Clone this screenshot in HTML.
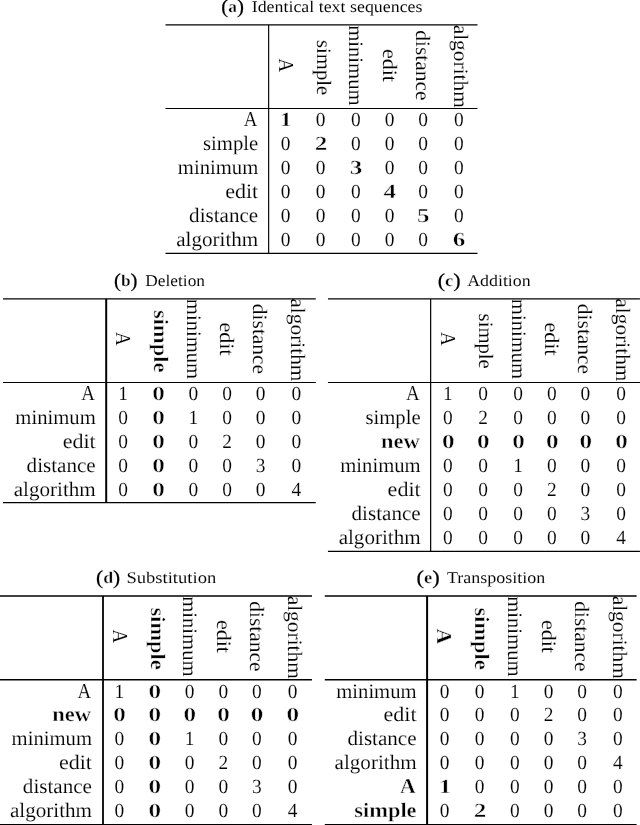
<!DOCTYPE html>
<html lang="en">
<head>
<meta charset="utf-8">
<title>Edit distance matrices</title>
<style>
html,body{margin:0;padding:0;background:#fff;}
body{width:640px;height:825px;overflow:hidden;font-family:"Liberation Serif",serif;}
svg{display:block;will-change:transform;transform:translateZ(0);}
svg text{font-family:"Liberation Serif",serif;fill:#000;stroke:#fff;stroke-width:0.13px;text-rendering:geometricPrecision;}
svg line{stroke:#000;}
.r{font-size:20.0px;}
.rb{font-size:20.0px;font-weight:bold;}
.h{font-size:20.5px;}
.hb{font-size:20.5px;font-weight:bold;}
.A{font-size:21.3px;}
.c{font-size:16.4px;stroke-width:0.06px;}
.cb{font-size:16.4px;font-weight:bold;stroke-width:0.3px;}
.cp{font-weight:normal;stroke:#000;stroke-width:0.2px;}
.rb{stroke-width:0.45px;}
.hb{stroke-width:0.4px;}
</style>
</head>
<body>
<svg width="640" height="825" viewBox="0 0 640 825">
<rect x="0" y="0" width="640" height="825" fill="#fff"/>
<g id="ta">
<line x1="165.5" x2="477.5" y1="24.95" y2="24.95" stroke-width="1.3"/>
<line x1="165.5" x2="477.5" y1="108.5" y2="108.5" stroke-width="1.0"/>
<line x1="165.5" x2="477.5" y1="253.4" y2="253.4" stroke-width="1.2"/>
<line x1="268.65" x2="268.65" y1="24.95" y2="253.4" stroke-width="1.15"/>
<text class="cb" x="221.3" y="12.4" textLength="22.7" lengthAdjust="spacingAndGlyphs"><tspan class="cp" font-size="19.68" dy="0.8">(</tspan><tspan dy="-0.8">a</tspan><tspan class="cp" font-size="19.68" dy="0.8">)</tspan></text>
<text class="c" x="251.7" y="12.4" textLength="170.8" lengthAdjust="spacingAndGlyphs">Identical text sequences</text>
<text class="h A" transform="translate(278.87 58.47) rotate(90)" textLength="13.65" lengthAdjust="spacingAndGlyphs">A</text>
<text class="h" transform="translate(316.95 40) rotate(90)" textLength="55.19" lengthAdjust="spacingAndGlyphs">simple</text>
<text class="h" transform="translate(349.27 25.23) rotate(90)" textLength="80.34" lengthAdjust="spacingAndGlyphs">minimum</text>
<text class="h" transform="translate(382.77 48.88) rotate(90)" textLength="33.04" lengthAdjust="spacingAndGlyphs">edit</text>
<text class="h" transform="translate(415.97 30.26) rotate(90)" textLength="70.28" lengthAdjust="spacingAndGlyphs">distance</text>
<text class="h" transform="translate(453.9 24.66) rotate(90)" textLength="83.28" lengthAdjust="spacingAndGlyphs">algorithm</text>
<text class="h A" x="243.65" y="126.05" textLength="13.65" lengthAdjust="spacingAndGlyphs">A</text>
<text class="rb" x="279.59" y="126.05" textLength="12.61" lengthAdjust="spacingAndGlyphs">1</text>
<text class="r" x="315.75" y="126.05" textLength="9.7" lengthAdjust="spacingAndGlyphs">0</text>
<text class="r" x="350.9" y="126.05" textLength="9.7" lengthAdjust="spacingAndGlyphs">0</text>
<text class="r" x="384.65" y="126.05" textLength="9.7" lengthAdjust="spacingAndGlyphs">0</text>
<text class="r" x="418.15" y="126.05" textLength="9.7" lengthAdjust="spacingAndGlyphs">0</text>
<text class="r" x="453.9" y="126.05" textLength="9.7" lengthAdjust="spacingAndGlyphs">0</text>
<text class="h" x="203.01" y="150.01" textLength="55.19" lengthAdjust="spacingAndGlyphs">simple</text>
<text class="r" x="280.65" y="150.01" textLength="9.7" lengthAdjust="spacingAndGlyphs">0</text>
<text class="rb" x="314.69" y="150.01" textLength="12.61" lengthAdjust="spacingAndGlyphs">2</text>
<text class="r" x="350.9" y="150.01" textLength="9.7" lengthAdjust="spacingAndGlyphs">0</text>
<text class="r" x="384.65" y="150.01" textLength="9.7" lengthAdjust="spacingAndGlyphs">0</text>
<text class="r" x="418.15" y="150.01" textLength="9.7" lengthAdjust="spacingAndGlyphs">0</text>
<text class="r" x="453.9" y="150.01" textLength="9.7" lengthAdjust="spacingAndGlyphs">0</text>
<text class="h" x="177.86" y="173.97" textLength="80.34" lengthAdjust="spacingAndGlyphs">minimum</text>
<text class="r" x="280.65" y="173.97" textLength="9.7" lengthAdjust="spacingAndGlyphs">0</text>
<text class="r" x="315.75" y="173.97" textLength="9.7" lengthAdjust="spacingAndGlyphs">0</text>
<text class="rb" x="349.84" y="173.97" textLength="12.61" lengthAdjust="spacingAndGlyphs">3</text>
<text class="r" x="384.65" y="173.97" textLength="9.7" lengthAdjust="spacingAndGlyphs">0</text>
<text class="r" x="418.15" y="173.97" textLength="9.7" lengthAdjust="spacingAndGlyphs">0</text>
<text class="r" x="453.9" y="173.97" textLength="9.7" lengthAdjust="spacingAndGlyphs">0</text>
<text class="h" x="225.16" y="197.93" textLength="33.04" lengthAdjust="spacingAndGlyphs">edit</text>
<text class="r" x="280.65" y="197.93" textLength="9.7" lengthAdjust="spacingAndGlyphs">0</text>
<text class="r" x="315.75" y="197.93" textLength="9.7" lengthAdjust="spacingAndGlyphs">0</text>
<text class="r" x="350.9" y="197.93" textLength="9.7" lengthAdjust="spacingAndGlyphs">0</text>
<text class="rb" x="383.59" y="197.93" textLength="12.61" lengthAdjust="spacingAndGlyphs">4</text>
<text class="r" x="418.15" y="197.93" textLength="9.7" lengthAdjust="spacingAndGlyphs">0</text>
<text class="r" x="453.9" y="197.93" textLength="9.7" lengthAdjust="spacingAndGlyphs">0</text>
<text class="h" x="189.12" y="221.89" textLength="69.08" lengthAdjust="spacingAndGlyphs">distance</text>
<text class="r" x="280.65" y="221.89" textLength="9.7" lengthAdjust="spacingAndGlyphs">0</text>
<text class="r" x="315.75" y="221.89" textLength="9.7" lengthAdjust="spacingAndGlyphs">0</text>
<text class="r" x="350.9" y="221.89" textLength="9.7" lengthAdjust="spacingAndGlyphs">0</text>
<text class="r" x="384.65" y="221.89" textLength="9.7" lengthAdjust="spacingAndGlyphs">0</text>
<text class="rb" x="417.09" y="221.89" textLength="12.61" lengthAdjust="spacingAndGlyphs">5</text>
<text class="r" x="453.9" y="221.89" textLength="9.7" lengthAdjust="spacingAndGlyphs">0</text>
<text class="h" x="176.22" y="245.85" textLength="81.98" lengthAdjust="spacingAndGlyphs">algorithm</text>
<text class="r" x="280.65" y="245.85" textLength="9.7" lengthAdjust="spacingAndGlyphs">0</text>
<text class="r" x="315.75" y="245.85" textLength="9.7" lengthAdjust="spacingAndGlyphs">0</text>
<text class="r" x="350.9" y="245.85" textLength="9.7" lengthAdjust="spacingAndGlyphs">0</text>
<text class="r" x="384.65" y="245.85" textLength="9.7" lengthAdjust="spacingAndGlyphs">0</text>
<text class="r" x="418.15" y="245.85" textLength="9.7" lengthAdjust="spacingAndGlyphs">0</text>
<text class="rb" x="452.84" y="245.85" textLength="12.61" lengthAdjust="spacingAndGlyphs">6</text>
</g>
<g id="tb">
<line x1="3" x2="315.75" y1="298.9" y2="298.9" stroke-width="1.3"/>
<line x1="3" x2="315.75" y1="382.5" y2="382.5" stroke-width="1.0"/>
<line x1="3" x2="315.75" y1="502.6" y2="502.6" stroke-width="1.3"/>
<line x1="106.2" x2="106.2" y1="298.9" y2="502.6" stroke-width="2.0"/>
<text class="cb" x="114" y="285.7" textLength="23.5" lengthAdjust="spacingAndGlyphs"><tspan class="cp" font-size="19.68" dy="0.8">(</tspan><tspan dy="-0.8">b</tspan><tspan class="cp" font-size="19.68" dy="0.8">)</tspan></text>
<text class="c" x="145.3" y="285.7" textLength="59.7" lengthAdjust="spacingAndGlyphs">Deletion</text>
<text class="h A" transform="translate(116.37 332.08) rotate(90)" textLength="13.65" lengthAdjust="spacingAndGlyphs">A</text>
<text class="hb" transform="translate(154.45 310) rotate(90)" textLength="62.39" lengthAdjust="spacingAndGlyphs">simple</text>
<text class="h" transform="translate(186.77 298.83) rotate(90)" textLength="80.34" lengthAdjust="spacingAndGlyphs">minimum</text>
<text class="h" transform="translate(220.27 322.48) rotate(90)" textLength="33.04" lengthAdjust="spacingAndGlyphs">edit</text>
<text class="h" transform="translate(253.47 303.86) rotate(90)" textLength="70.28" lengthAdjust="spacingAndGlyphs">distance</text>
<text class="h" transform="translate(291.4 298.26) rotate(90)" textLength="83.28" lengthAdjust="spacingAndGlyphs">algorithm</text>
<text class="h A" x="81.15" y="399.9" textLength="13.65" lengthAdjust="spacingAndGlyphs">A</text>
<text class="r" x="118.15" y="399.9" textLength="9.7" lengthAdjust="spacingAndGlyphs">1</text>
<text class="rb" x="152.2" y="399.9" textLength="12.61" lengthAdjust="spacingAndGlyphs">0</text>
<text class="r" x="188.4" y="399.9" textLength="9.7" lengthAdjust="spacingAndGlyphs">0</text>
<text class="r" x="222.15" y="399.9" textLength="9.7" lengthAdjust="spacingAndGlyphs">0</text>
<text class="r" x="255.65" y="399.9" textLength="9.7" lengthAdjust="spacingAndGlyphs">0</text>
<text class="r" x="291.4" y="399.9" textLength="9.7" lengthAdjust="spacingAndGlyphs">0</text>
<text class="h" x="15.36" y="423.92" textLength="80.34" lengthAdjust="spacingAndGlyphs">minimum</text>
<text class="r" x="118.15" y="423.92" textLength="9.7" lengthAdjust="spacingAndGlyphs">0</text>
<text class="rb" x="152.2" y="423.92" textLength="12.61" lengthAdjust="spacingAndGlyphs">0</text>
<text class="r" x="188.4" y="423.92" textLength="9.7" lengthAdjust="spacingAndGlyphs">1</text>
<text class="r" x="222.15" y="423.92" textLength="9.7" lengthAdjust="spacingAndGlyphs">0</text>
<text class="r" x="255.65" y="423.92" textLength="9.7" lengthAdjust="spacingAndGlyphs">0</text>
<text class="r" x="291.4" y="423.92" textLength="9.7" lengthAdjust="spacingAndGlyphs">0</text>
<text class="h" x="62.66" y="447.94" textLength="33.04" lengthAdjust="spacingAndGlyphs">edit</text>
<text class="r" x="118.15" y="447.94" textLength="9.7" lengthAdjust="spacingAndGlyphs">0</text>
<text class="rb" x="152.2" y="447.94" textLength="12.61" lengthAdjust="spacingAndGlyphs">0</text>
<text class="r" x="188.4" y="447.94" textLength="9.7" lengthAdjust="spacingAndGlyphs">0</text>
<text class="r" x="222.15" y="447.94" textLength="9.7" lengthAdjust="spacingAndGlyphs">2</text>
<text class="r" x="255.65" y="447.94" textLength="9.7" lengthAdjust="spacingAndGlyphs">0</text>
<text class="r" x="291.4" y="447.94" textLength="9.7" lengthAdjust="spacingAndGlyphs">0</text>
<text class="h" x="26.62" y="471.96" textLength="69.08" lengthAdjust="spacingAndGlyphs">distance</text>
<text class="r" x="118.15" y="471.96" textLength="9.7" lengthAdjust="spacingAndGlyphs">0</text>
<text class="rb" x="152.2" y="471.96" textLength="12.61" lengthAdjust="spacingAndGlyphs">0</text>
<text class="r" x="188.4" y="471.96" textLength="9.7" lengthAdjust="spacingAndGlyphs">0</text>
<text class="r" x="222.15" y="471.96" textLength="9.7" lengthAdjust="spacingAndGlyphs">0</text>
<text class="r" x="255.65" y="471.96" textLength="9.7" lengthAdjust="spacingAndGlyphs">3</text>
<text class="r" x="291.4" y="471.96" textLength="9.7" lengthAdjust="spacingAndGlyphs">0</text>
<text class="h" x="13.72" y="495.98" textLength="81.98" lengthAdjust="spacingAndGlyphs">algorithm</text>
<text class="r" x="118.15" y="495.98" textLength="9.7" lengthAdjust="spacingAndGlyphs">0</text>
<text class="rb" x="152.2" y="495.98" textLength="12.61" lengthAdjust="spacingAndGlyphs">0</text>
<text class="r" x="188.4" y="495.98" textLength="9.7" lengthAdjust="spacingAndGlyphs">0</text>
<text class="r" x="222.15" y="495.98" textLength="9.7" lengthAdjust="spacingAndGlyphs">0</text>
<text class="r" x="255.65" y="495.98" textLength="9.7" lengthAdjust="spacingAndGlyphs">0</text>
<text class="r" x="291.4" y="495.98" textLength="9.7" lengthAdjust="spacingAndGlyphs">4</text>
</g>
<g id="tc">
<line x1="327.95" x2="639.95" y1="298.9" y2="298.9" stroke-width="1.3"/>
<line x1="327.95" x2="639.95" y1="382.5" y2="382.5" stroke-width="1.0"/>
<line x1="327.95" x2="639.95" y1="551.4" y2="551.4" stroke-width="1.2"/>
<line x1="430.65" x2="430.65" y1="298.9" y2="551.4" stroke-width="1.2"/>
<text class="cb" x="437.75" y="285.7" textLength="22.9" lengthAdjust="spacingAndGlyphs"><tspan class="cp" font-size="19.68" dy="0.8">(</tspan><tspan dy="-0.8">c</tspan><tspan class="cp" font-size="19.68" dy="0.8">)</tspan></text>
<text class="c" x="467.15" y="285.7" textLength="63.55" lengthAdjust="spacingAndGlyphs">Addition</text>
<text class="h A" transform="translate(441.32 332.08) rotate(90)" textLength="13.65" lengthAdjust="spacingAndGlyphs">A</text>
<text class="h" transform="translate(479.4 313.6) rotate(90)" textLength="55.19" lengthAdjust="spacingAndGlyphs">simple</text>
<text class="h" transform="translate(511.72 298.83) rotate(90)" textLength="80.34" lengthAdjust="spacingAndGlyphs">minimum</text>
<text class="h" transform="translate(545.22 322.48) rotate(90)" textLength="33.04" lengthAdjust="spacingAndGlyphs">edit</text>
<text class="h" transform="translate(578.42 303.86) rotate(90)" textLength="70.28" lengthAdjust="spacingAndGlyphs">distance</text>
<text class="h" transform="translate(616.35 298.26) rotate(90)" textLength="83.28" lengthAdjust="spacingAndGlyphs">algorithm</text>
<text class="h A" x="406.1" y="399.9" textLength="13.65" lengthAdjust="spacingAndGlyphs">A</text>
<text class="r" x="443.1" y="399.9" textLength="9.7" lengthAdjust="spacingAndGlyphs">1</text>
<text class="r" x="478.2" y="399.9" textLength="9.7" lengthAdjust="spacingAndGlyphs">0</text>
<text class="r" x="513.35" y="399.9" textLength="9.7" lengthAdjust="spacingAndGlyphs">0</text>
<text class="r" x="547.1" y="399.9" textLength="9.7" lengthAdjust="spacingAndGlyphs">0</text>
<text class="r" x="580.6" y="399.9" textLength="9.7" lengthAdjust="spacingAndGlyphs">0</text>
<text class="r" x="616.35" y="399.9" textLength="9.7" lengthAdjust="spacingAndGlyphs">0</text>
<text class="h" x="365.46" y="423.93" textLength="55.19" lengthAdjust="spacingAndGlyphs">simple</text>
<text class="r" x="443.1" y="423.93" textLength="9.7" lengthAdjust="spacingAndGlyphs">0</text>
<text class="r" x="478.2" y="423.93" textLength="9.7" lengthAdjust="spacingAndGlyphs">2</text>
<text class="r" x="513.35" y="423.93" textLength="9.7" lengthAdjust="spacingAndGlyphs">0</text>
<text class="r" x="547.1" y="423.93" textLength="9.7" lengthAdjust="spacingAndGlyphs">0</text>
<text class="r" x="580.6" y="423.93" textLength="9.7" lengthAdjust="spacingAndGlyphs">0</text>
<text class="r" x="616.35" y="423.93" textLength="9.7" lengthAdjust="spacingAndGlyphs">0</text>
<text class="hb" x="381.01" y="447.96" textLength="38.74" lengthAdjust="spacingAndGlyphs">new</text>
<text class="rb" x="442.04" y="447.96" textLength="12.61" lengthAdjust="spacingAndGlyphs">0</text>
<text class="rb" x="477.14" y="447.96" textLength="12.61" lengthAdjust="spacingAndGlyphs">0</text>
<text class="rb" x="512.3" y="447.96" textLength="12.61" lengthAdjust="spacingAndGlyphs">0</text>
<text class="rb" x="546.05" y="447.96" textLength="12.61" lengthAdjust="spacingAndGlyphs">0</text>
<text class="rb" x="579.55" y="447.96" textLength="12.61" lengthAdjust="spacingAndGlyphs">0</text>
<text class="rb" x="615.3" y="447.96" textLength="12.61" lengthAdjust="spacingAndGlyphs">0</text>
<text class="h" x="340.31" y="471.99" textLength="80.34" lengthAdjust="spacingAndGlyphs">minimum</text>
<text class="r" x="443.1" y="471.99" textLength="9.7" lengthAdjust="spacingAndGlyphs">0</text>
<text class="r" x="478.2" y="471.99" textLength="9.7" lengthAdjust="spacingAndGlyphs">0</text>
<text class="r" x="513.35" y="471.99" textLength="9.7" lengthAdjust="spacingAndGlyphs">1</text>
<text class="r" x="547.1" y="471.99" textLength="9.7" lengthAdjust="spacingAndGlyphs">0</text>
<text class="r" x="580.6" y="471.99" textLength="9.7" lengthAdjust="spacingAndGlyphs">0</text>
<text class="r" x="616.35" y="471.99" textLength="9.7" lengthAdjust="spacingAndGlyphs">0</text>
<text class="h" x="387.61" y="496.02" textLength="33.04" lengthAdjust="spacingAndGlyphs">edit</text>
<text class="r" x="443.1" y="496.02" textLength="9.7" lengthAdjust="spacingAndGlyphs">0</text>
<text class="r" x="478.2" y="496.02" textLength="9.7" lengthAdjust="spacingAndGlyphs">0</text>
<text class="r" x="513.35" y="496.02" textLength="9.7" lengthAdjust="spacingAndGlyphs">0</text>
<text class="r" x="547.1" y="496.02" textLength="9.7" lengthAdjust="spacingAndGlyphs">2</text>
<text class="r" x="580.6" y="496.02" textLength="9.7" lengthAdjust="spacingAndGlyphs">0</text>
<text class="r" x="616.35" y="496.02" textLength="9.7" lengthAdjust="spacingAndGlyphs">0</text>
<text class="h" x="351.57" y="520.05" textLength="69.08" lengthAdjust="spacingAndGlyphs">distance</text>
<text class="r" x="443.1" y="520.05" textLength="9.7" lengthAdjust="spacingAndGlyphs">0</text>
<text class="r" x="478.2" y="520.05" textLength="9.7" lengthAdjust="spacingAndGlyphs">0</text>
<text class="r" x="513.35" y="520.05" textLength="9.7" lengthAdjust="spacingAndGlyphs">0</text>
<text class="r" x="547.1" y="520.05" textLength="9.7" lengthAdjust="spacingAndGlyphs">0</text>
<text class="r" x="580.6" y="520.05" textLength="9.7" lengthAdjust="spacingAndGlyphs">3</text>
<text class="r" x="616.35" y="520.05" textLength="9.7" lengthAdjust="spacingAndGlyphs">0</text>
<text class="h" x="338.67" y="544.08" textLength="81.98" lengthAdjust="spacingAndGlyphs">algorithm</text>
<text class="r" x="443.1" y="544.08" textLength="9.7" lengthAdjust="spacingAndGlyphs">0</text>
<text class="r" x="478.2" y="544.08" textLength="9.7" lengthAdjust="spacingAndGlyphs">0</text>
<text class="r" x="513.35" y="544.08" textLength="9.7" lengthAdjust="spacingAndGlyphs">0</text>
<text class="r" x="547.1" y="544.08" textLength="9.7" lengthAdjust="spacingAndGlyphs">0</text>
<text class="r" x="580.6" y="544.08" textLength="9.7" lengthAdjust="spacingAndGlyphs">0</text>
<text class="r" x="616.35" y="544.08" textLength="9.7" lengthAdjust="spacingAndGlyphs">4</text>
</g>
<g id="td">
<line x1="-0.75" x2="311.95" y1="596" y2="596" stroke-width="1.3"/>
<line x1="-0.75" x2="311.95" y1="679.75" y2="679.75" stroke-width="1.3"/>
<line x1="-0.75" x2="311.95" y1="824.6" y2="824.6" stroke-width="1.3"/>
<line x1="103" x2="103" y1="596" y2="824.6" stroke-width="1.8"/>
<text class="cb" x="96" y="583.4" textLength="24.3" lengthAdjust="spacingAndGlyphs"><tspan class="cp" font-size="19.68" dy="0.8">(</tspan><tspan dy="-0.8">d</tspan><tspan class="cp" font-size="19.68" dy="0.8">)</tspan></text>
<text class="c" x="126.4" y="583.4" textLength="89.85" lengthAdjust="spacingAndGlyphs">Substitution</text>
<text class="h A" transform="translate(112.62 629.47) rotate(90)" textLength="13.65" lengthAdjust="spacingAndGlyphs">A</text>
<text class="hb" transform="translate(150.7 607.4) rotate(90)" textLength="62.39" lengthAdjust="spacingAndGlyphs">simple</text>
<text class="h" transform="translate(183.02 596.23) rotate(90)" textLength="80.34" lengthAdjust="spacingAndGlyphs">minimum</text>
<text class="h" transform="translate(216.52 619.88) rotate(90)" textLength="33.04" lengthAdjust="spacingAndGlyphs">edit</text>
<text class="h" transform="translate(249.72 601.26) rotate(90)" textLength="70.28" lengthAdjust="spacingAndGlyphs">distance</text>
<text class="h" transform="translate(287.65 595.66) rotate(90)" textLength="83.28" lengthAdjust="spacingAndGlyphs">algorithm</text>
<text class="h A" x="77.4" y="697.5" textLength="13.65" lengthAdjust="spacingAndGlyphs">A</text>
<text class="r" x="114.4" y="697.5" textLength="9.7" lengthAdjust="spacingAndGlyphs">1</text>
<text class="rb" x="148.45" y="697.5" textLength="12.61" lengthAdjust="spacingAndGlyphs">0</text>
<text class="r" x="184.65" y="697.5" textLength="9.7" lengthAdjust="spacingAndGlyphs">0</text>
<text class="r" x="218.4" y="697.5" textLength="9.7" lengthAdjust="spacingAndGlyphs">0</text>
<text class="r" x="251.9" y="697.5" textLength="9.7" lengthAdjust="spacingAndGlyphs">0</text>
<text class="r" x="287.65" y="697.5" textLength="9.7" lengthAdjust="spacingAndGlyphs">0</text>
<text class="hb" x="52.31" y="721.38" textLength="38.74" lengthAdjust="spacingAndGlyphs">new</text>
<text class="rb" x="113.34" y="721.38" textLength="12.61" lengthAdjust="spacingAndGlyphs">0</text>
<text class="rb" x="148.45" y="721.38" textLength="12.61" lengthAdjust="spacingAndGlyphs">0</text>
<text class="rb" x="183.59" y="721.38" textLength="12.61" lengthAdjust="spacingAndGlyphs">0</text>
<text class="rb" x="217.34" y="721.38" textLength="12.61" lengthAdjust="spacingAndGlyphs">0</text>
<text class="rb" x="250.84" y="721.38" textLength="12.61" lengthAdjust="spacingAndGlyphs">0</text>
<text class="rb" x="286.59" y="721.38" textLength="12.61" lengthAdjust="spacingAndGlyphs">0</text>
<text class="h" x="11.61" y="745.26" textLength="80.34" lengthAdjust="spacingAndGlyphs">minimum</text>
<text class="r" x="114.4" y="745.26" textLength="9.7" lengthAdjust="spacingAndGlyphs">0</text>
<text class="rb" x="148.45" y="745.26" textLength="12.61" lengthAdjust="spacingAndGlyphs">0</text>
<text class="r" x="184.65" y="745.26" textLength="9.7" lengthAdjust="spacingAndGlyphs">1</text>
<text class="r" x="218.4" y="745.26" textLength="9.7" lengthAdjust="spacingAndGlyphs">0</text>
<text class="r" x="251.9" y="745.26" textLength="9.7" lengthAdjust="spacingAndGlyphs">0</text>
<text class="r" x="287.65" y="745.26" textLength="9.7" lengthAdjust="spacingAndGlyphs">0</text>
<text class="h" x="58.91" y="769.14" textLength="33.04" lengthAdjust="spacingAndGlyphs">edit</text>
<text class="r" x="114.4" y="769.14" textLength="9.7" lengthAdjust="spacingAndGlyphs">0</text>
<text class="rb" x="148.45" y="769.14" textLength="12.61" lengthAdjust="spacingAndGlyphs">0</text>
<text class="r" x="184.65" y="769.14" textLength="9.7" lengthAdjust="spacingAndGlyphs">0</text>
<text class="r" x="218.4" y="769.14" textLength="9.7" lengthAdjust="spacingAndGlyphs">2</text>
<text class="r" x="251.9" y="769.14" textLength="9.7" lengthAdjust="spacingAndGlyphs">0</text>
<text class="r" x="287.65" y="769.14" textLength="9.7" lengthAdjust="spacingAndGlyphs">0</text>
<text class="h" x="22.87" y="793.02" textLength="69.08" lengthAdjust="spacingAndGlyphs">distance</text>
<text class="r" x="114.4" y="793.02" textLength="9.7" lengthAdjust="spacingAndGlyphs">0</text>
<text class="rb" x="148.45" y="793.02" textLength="12.61" lengthAdjust="spacingAndGlyphs">0</text>
<text class="r" x="184.65" y="793.02" textLength="9.7" lengthAdjust="spacingAndGlyphs">0</text>
<text class="r" x="218.4" y="793.02" textLength="9.7" lengthAdjust="spacingAndGlyphs">0</text>
<text class="r" x="251.9" y="793.02" textLength="9.7" lengthAdjust="spacingAndGlyphs">3</text>
<text class="r" x="287.65" y="793.02" textLength="9.7" lengthAdjust="spacingAndGlyphs">0</text>
<text class="h" x="9.97" y="816.9" textLength="81.98" lengthAdjust="spacingAndGlyphs">algorithm</text>
<text class="r" x="114.4" y="816.9" textLength="9.7" lengthAdjust="spacingAndGlyphs">0</text>
<text class="rb" x="148.45" y="816.9" textLength="12.61" lengthAdjust="spacingAndGlyphs">0</text>
<text class="r" x="184.65" y="816.9" textLength="9.7" lengthAdjust="spacingAndGlyphs">0</text>
<text class="r" x="218.4" y="816.9" textLength="9.7" lengthAdjust="spacingAndGlyphs">0</text>
<text class="r" x="251.9" y="816.9" textLength="9.7" lengthAdjust="spacingAndGlyphs">0</text>
<text class="r" x="287.65" y="816.9" textLength="9.7" lengthAdjust="spacingAndGlyphs">4</text>
</g>
<g id="te">
<line x1="324.8" x2="636.6" y1="596" y2="596" stroke-width="1.3"/>
<line x1="324.8" x2="636.6" y1="679.75" y2="679.75" stroke-width="1.3"/>
<line x1="324.8" x2="636.6" y1="824.6" y2="824.6" stroke-width="1.3"/>
<line x1="427.1" x2="427.1" y1="596" y2="824.6" stroke-width="2.0"/>
<text class="cb" x="416.5" y="583.4" textLength="23.3" lengthAdjust="spacingAndGlyphs"><tspan class="cp" font-size="19.68" dy="0.8">(</tspan><tspan dy="-0.8">e</tspan><tspan class="cp" font-size="19.68" dy="0.8">)</tspan></text>
<text class="c" x="446.9" y="583.4" textLength="98.3" lengthAdjust="spacingAndGlyphs">Transposition</text>
<text class="hb A" transform="translate(437.27 628.47) rotate(90)" textLength="15.66" lengthAdjust="spacingAndGlyphs">A</text>
<text class="hb" transform="translate(475.35 607.4) rotate(90)" textLength="62.39" lengthAdjust="spacingAndGlyphs">simple</text>
<text class="h" transform="translate(508.37 596.23) rotate(90)" textLength="80.34" lengthAdjust="spacingAndGlyphs">minimum</text>
<text class="h" transform="translate(541.87 619.88) rotate(90)" textLength="33.04" lengthAdjust="spacingAndGlyphs">edit</text>
<text class="h" transform="translate(575.07 601.26) rotate(90)" textLength="70.28" lengthAdjust="spacingAndGlyphs">distance</text>
<text class="h" transform="translate(613 595.66) rotate(90)" textLength="83.28" lengthAdjust="spacingAndGlyphs">algorithm</text>
<text class="h" x="336.26" y="697.5" textLength="80.34" lengthAdjust="spacingAndGlyphs">minimum</text>
<text class="r" x="439.75" y="697.5" textLength="9.7" lengthAdjust="spacingAndGlyphs">0</text>
<text class="r" x="474.85" y="697.5" textLength="9.7" lengthAdjust="spacingAndGlyphs">0</text>
<text class="r" x="510" y="697.5" textLength="9.7" lengthAdjust="spacingAndGlyphs">1</text>
<text class="r" x="543.75" y="697.5" textLength="9.7" lengthAdjust="spacingAndGlyphs">0</text>
<text class="r" x="577.25" y="697.5" textLength="9.7" lengthAdjust="spacingAndGlyphs">0</text>
<text class="r" x="613" y="697.5" textLength="9.7" lengthAdjust="spacingAndGlyphs">0</text>
<text class="h" x="383.56" y="721.38" textLength="33.04" lengthAdjust="spacingAndGlyphs">edit</text>
<text class="r" x="439.75" y="721.38" textLength="9.7" lengthAdjust="spacingAndGlyphs">0</text>
<text class="r" x="474.85" y="721.38" textLength="9.7" lengthAdjust="spacingAndGlyphs">0</text>
<text class="r" x="510" y="721.38" textLength="9.7" lengthAdjust="spacingAndGlyphs">0</text>
<text class="r" x="543.75" y="721.38" textLength="9.7" lengthAdjust="spacingAndGlyphs">2</text>
<text class="r" x="577.25" y="721.38" textLength="9.7" lengthAdjust="spacingAndGlyphs">0</text>
<text class="r" x="613" y="721.38" textLength="9.7" lengthAdjust="spacingAndGlyphs">0</text>
<text class="h" x="347.52" y="745.26" textLength="69.08" lengthAdjust="spacingAndGlyphs">distance</text>
<text class="r" x="439.75" y="745.26" textLength="9.7" lengthAdjust="spacingAndGlyphs">0</text>
<text class="r" x="474.85" y="745.26" textLength="9.7" lengthAdjust="spacingAndGlyphs">0</text>
<text class="r" x="510" y="745.26" textLength="9.7" lengthAdjust="spacingAndGlyphs">0</text>
<text class="r" x="543.75" y="745.26" textLength="9.7" lengthAdjust="spacingAndGlyphs">0</text>
<text class="r" x="577.25" y="745.26" textLength="9.7" lengthAdjust="spacingAndGlyphs">3</text>
<text class="r" x="613" y="745.26" textLength="9.7" lengthAdjust="spacingAndGlyphs">0</text>
<text class="h" x="334.62" y="769.14" textLength="81.98" lengthAdjust="spacingAndGlyphs">algorithm</text>
<text class="r" x="439.75" y="769.14" textLength="9.7" lengthAdjust="spacingAndGlyphs">0</text>
<text class="r" x="474.85" y="769.14" textLength="9.7" lengthAdjust="spacingAndGlyphs">0</text>
<text class="r" x="510" y="769.14" textLength="9.7" lengthAdjust="spacingAndGlyphs">0</text>
<text class="r" x="543.75" y="769.14" textLength="9.7" lengthAdjust="spacingAndGlyphs">0</text>
<text class="r" x="577.25" y="769.14" textLength="9.7" lengthAdjust="spacingAndGlyphs">0</text>
<text class="r" x="613" y="769.14" textLength="9.7" lengthAdjust="spacingAndGlyphs">4</text>
<text class="hb A" x="400.04" y="793.02" textLength="15.66" lengthAdjust="spacingAndGlyphs">A</text>
<text class="rb" x="438.69" y="793.02" textLength="12.61" lengthAdjust="spacingAndGlyphs">1</text>
<text class="r" x="474.85" y="793.02" textLength="9.7" lengthAdjust="spacingAndGlyphs">0</text>
<text class="r" x="510" y="793.02" textLength="9.7" lengthAdjust="spacingAndGlyphs">0</text>
<text class="r" x="543.75" y="793.02" textLength="9.7" lengthAdjust="spacingAndGlyphs">0</text>
<text class="r" x="577.25" y="793.02" textLength="9.7" lengthAdjust="spacingAndGlyphs">0</text>
<text class="r" x="613" y="793.02" textLength="9.7" lengthAdjust="spacingAndGlyphs">0</text>
<text class="hb" x="354.21" y="816.9" textLength="62.39" lengthAdjust="spacingAndGlyphs">simple</text>
<text class="r" x="439.75" y="816.9" textLength="9.7" lengthAdjust="spacingAndGlyphs">0</text>
<text class="rb" x="473.8" y="816.9" textLength="12.61" lengthAdjust="spacingAndGlyphs">2</text>
<text class="r" x="510" y="816.9" textLength="9.7" lengthAdjust="spacingAndGlyphs">0</text>
<text class="r" x="543.75" y="816.9" textLength="9.7" lengthAdjust="spacingAndGlyphs">0</text>
<text class="r" x="577.25" y="816.9" textLength="9.7" lengthAdjust="spacingAndGlyphs">0</text>
<text class="r" x="613" y="816.9" textLength="9.7" lengthAdjust="spacingAndGlyphs">0</text>
</g>
</svg>
</body>
</html>
